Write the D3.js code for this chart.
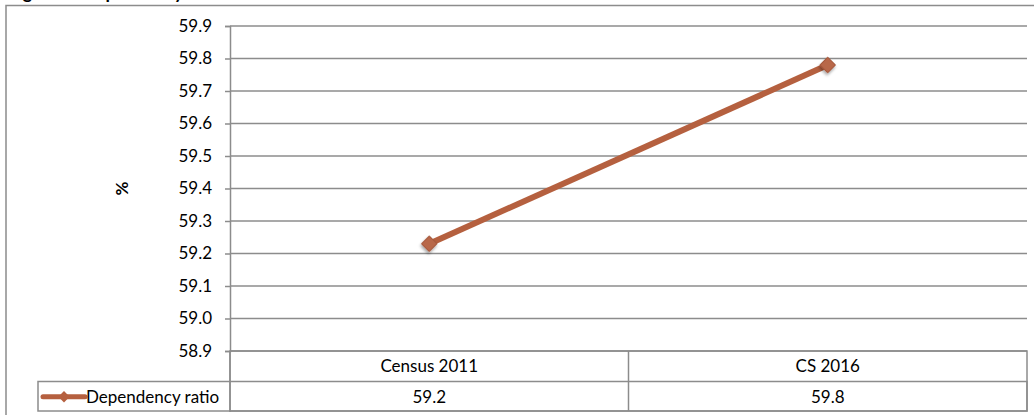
<!DOCTYPE html>
<meta charset="utf-8">
<script src="https://cdn.jsdelivr.net/npm/d3@7"></script>
<style>
  body { margin: 0; background: #fff; overflow: hidden; }
  text { font-family: Lato, "Open Sans", sans-serif; fill: #000; }
</style>
<body>
<script>

var categories = ["Census 2011", "CS 2016"]
var seriesName = "Dependency ratio"
var dependency = [59.23, 59.78]
var tableLabels = ["59.2", "59.8"]
var yTicks = [58.9, 59.0, 59.1, 59.2, 59.3, 59.4, 59.5, 59.6, 59.7, 59.8, 59.9]

var width = 1034
var height = 415
var plotLeft = 230, plotRight = 1027, plotTop = 26, plotBottom = 351
var rowH = 30.5
var lineColor = "#b5603f"
var gridColor = "#8c8c8c"

var svg = d3.select("body").append("svg")
            .attr("width", width)
            .attr("height", height)
            .style("display", "block")

var x = d3.scaleBand().domain(categories).range([plotLeft, plotRight])
var y = d3.scaleLinear().domain([58.9, 59.9]).range([plotBottom, plotTop])

// outer chart frame
svg.append("rect")
   .attr("x", 6).attr("y", 5.5)
   .attr("width", 1040).attr("height", 420)
   .attr("fill", "none").attr("stroke", gridColor).attr("stroke-width", 1.5)

// title (mostly cut off above the picture)
svg.append("text")
   .attr("x", 8).attr("y", -1)
   .style("font-weight", "bold").style("font-size", "18px")
   .text("Figure 4: Dependency ratio")

// gridlines
svg.append("g")
   .selectAll("line").data(yTicks).enter().append("line")
   .attr("x1", plotLeft).attr("x2", plotRight)
   .attr("y1", d => y(d)).attr("y2", d => y(d))
   .attr("stroke", gridColor).attr("stroke-width", 1.5)

// y axis
var yAxis = svg.append("g")
    .attr("transform", "translate(" + plotLeft + ",0)")
    .call(d3.axisLeft(y).tickValues(yTicks).tickFormat(d3.format(".1f")).tickSize(5).tickPadding(13))
yAxis.select(".domain").attr("stroke", gridColor).attr("stroke-width", 1.5)
yAxis.selectAll(".tick line").attr("stroke", gridColor).attr("stroke-width", 1.5)
yAxis.selectAll(".tick text").style("font-size", "17px").style("font-family", "Lato, 'Open Sans', sans-serif").attr("fill", "#000")

svg.append("text")
   .attr("transform", "translate(128," + ((plotTop + plotBottom) / 2) + ") rotate(-90)")
   .style("text-anchor", "middle").style("font-weight", "bold").style("font-size", "17px")
   .text("%")

// data table under the plot
var table = svg.append("g")
table.append("line")
   .attr("x1", plotLeft).attr("x2", plotLeft).attr("y1", plotBottom).attr("y2", plotBottom + rowH * 2)
   .attr("stroke", gridColor).attr("stroke-width", 1.5)
table.append("rect")
   .attr("x", 38).attr("y", plotBottom + rowH)
   .attr("width", plotRight - 38).attr("height", rowH - 1)
   .attr("fill", "none").attr("stroke", gridColor).attr("stroke-width", 1.5)
table.append("rect")
   .attr("x", plotLeft).attr("y", plotBottom)
   .attr("width", plotRight - plotLeft).attr("height", rowH + (rowH - 1))
   .attr("fill", "none").attr("stroke", gridColor).attr("stroke-width", 1.5)
table.selectAll(".sep").data(categories.slice(1)).enter().append("line")
   .attr("x1", d => x(d)).attr("x2", d => x(d))
   .attr("y1", plotBottom).attr("y2", plotBottom + rowH * 2 - 1)
   .attr("stroke", gridColor).attr("stroke-width", 1.5)

table.selectAll(".cat").data(categories).enter().append("text")
   .attr("x", d => x(d) + x.bandwidth() / 2)
   .attr("y", plotBottom + rowH / 2 + 6)
   .style("text-anchor", "middle").style("font-size", "17px")
   .text(d => d)
table.selectAll(".val").data(tableLabels).enter().append("text")
   .attr("x", (d, i) => x(categories[i]) + x.bandwidth() / 2)
   .attr("y", plotBottom + rowH * 1.5 + 6)
   .style("text-anchor", "middle").style("font-size", "17px")
   .text(d => d)

// legend key in the table row
var ky = plotBottom + rowH * 1.5
table.append("line")
   .attr("x1", 43).attr("x2", 85).attr("y1", ky).attr("y2", ky)
   .attr("stroke", lineColor).attr("stroke-width", 5).attr("stroke-linecap", "round")
table.append("path")
   .attr("d", d3.symbol(d3.symbolSquare, 64)())
   .attr("transform", "translate(64," + ky + ") rotate(45)")
   .attr("fill", lineColor)
table.append("text")
   .attr("x", 86).attr("y", ky + 6)
   .style("font-size", "17px")
   .text(seriesName)

// series line and markers
var line = d3.line()
   .x((d, i) => x(categories[i]) + x.bandwidth() / 2)
   .y(d => y(d))
svg.append("path")
   .attr("d", line(dependency))
   .attr("stroke", lineColor).attr("stroke-width", 6).attr("fill", "none")

var defs = svg.append("defs")
var f = defs.append("filter").attr("id", "shadow").attr("x", "-50%").attr("y", "-50%").attr("width", "200%").attr("height", "200%")
f.append("feDropShadow").attr("dx", 1).attr("dy", 2).attr("stdDeviation", 1.5).attr("flood-color", "#000").attr("flood-opacity", 0.35)

svg.append("g").selectAll("path").data(dependency).enter().append("path")
   .attr("d", d3.symbol(d3.symbolSquare, 120)())
   .attr("transform", (d, i) => "translate(" + (x(categories[i]) + x.bandwidth() / 2) + "," + y(d) + ") rotate(45)")
   .attr("fill", "#b8674a").attr("stroke", "#a4583c").attr("stroke-width", 1)
   .attr("filter", "url(#shadow)")

</script>
</body>
